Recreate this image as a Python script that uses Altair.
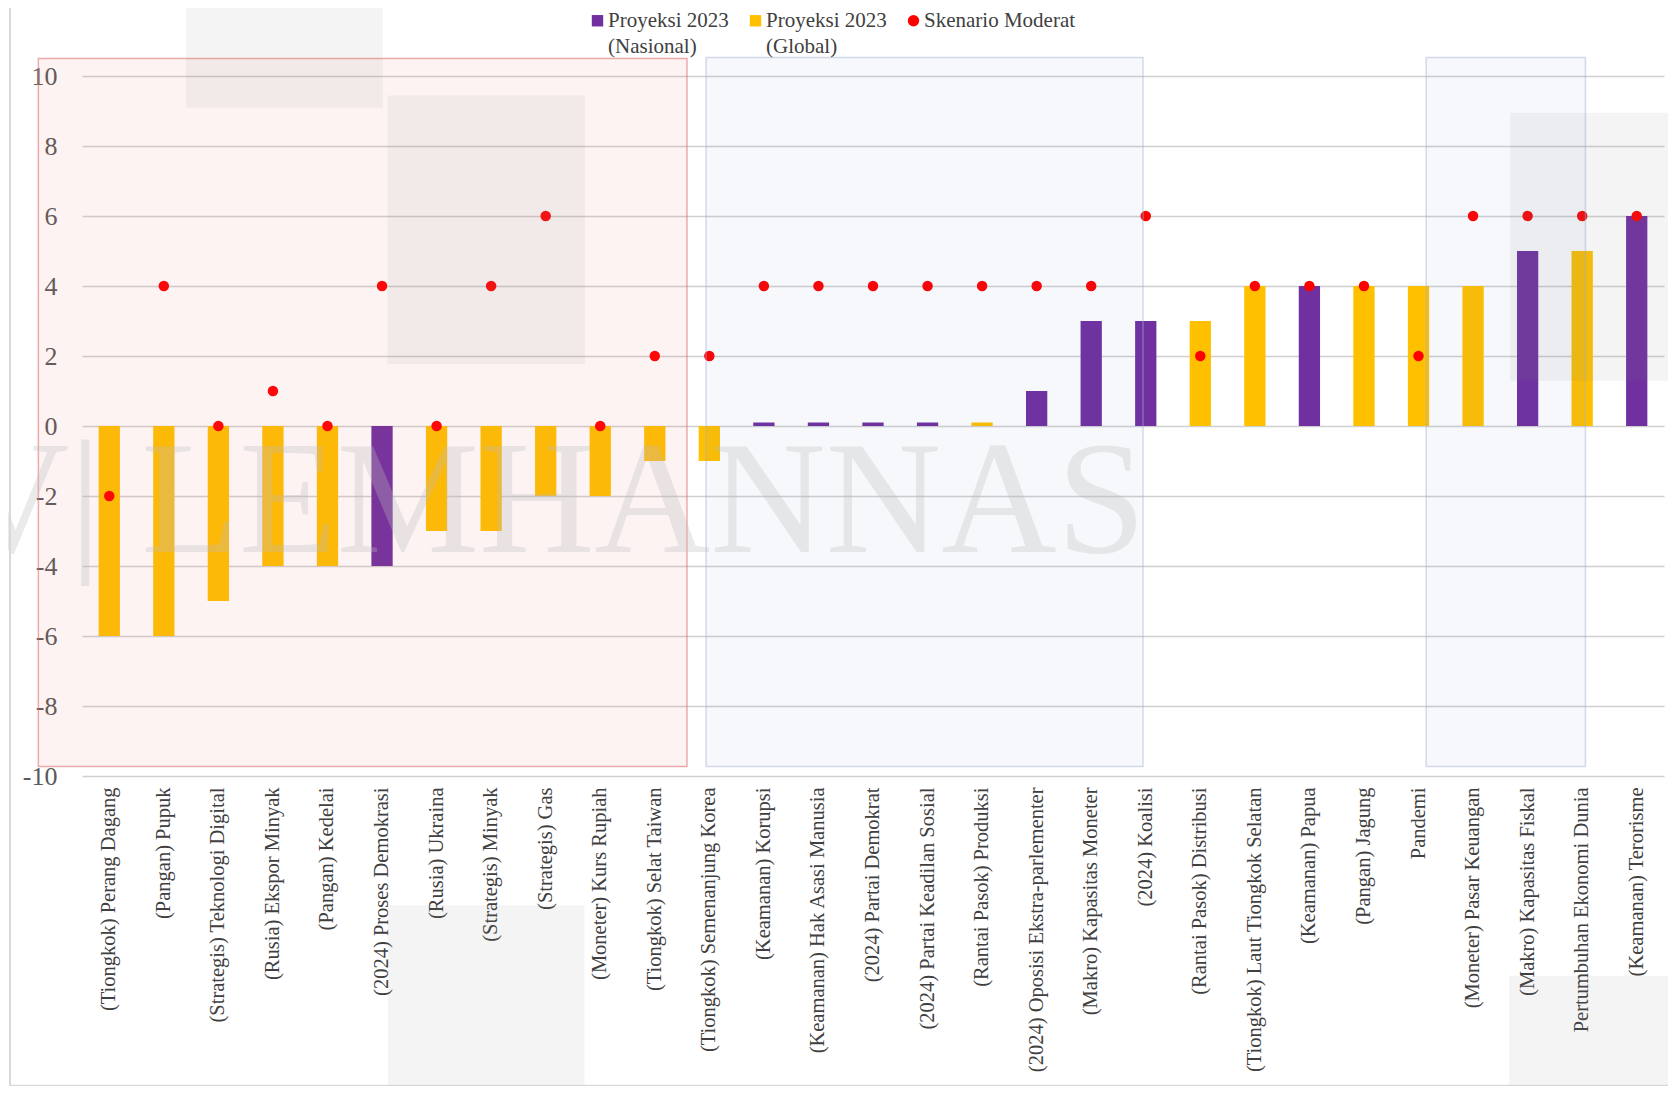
import altair as alt
import pandas as pd

FONT = "Liberation Serif"

categories = [
    "(Tiongkok) Perang Dagang", "(Pangan) Pupuk", "(Strategis) Teknologi Digital",
    "(Rusia) Ekspor Minyak", "(Pangan) Kedelai", "(2024) Proses Demokrasi",
    "(Rusia) Ukraina", "(Strategis) Minyak", "(Strategis) Gas",
    "(Moneter) Kurs Rupiah", "(Tiongkok) Selat Taiwan", "(Tiongkok) Semenanjung Korea",
    "(Keamanan) Korupsi", "(Keamanan) Hak Asasi Manusia", "(2024) Partai Demokrat",
    "(2024) Partai Keadilan Sosial", "(Rantai Pasok) Produksi",
    "(2024) Oposisi Ekstra-parlementer", "(Makro) Kapasitas Moneter", "(2024) Koalisi",
    "(Rantai Pasok) Distribusi", "(Tiongkok) Laut Tiongkok Selatan", "(Keamanan) Papua",
    "(Pangan) Jagung", "Pandemi", "(Moneter) Pasar Keuangan", "(Makro) Kapasitas Fiskal",
    "Pertumbuhan Ekonomi Dunia", "(Keamanan) Terorisme",
]
proyeksi = [-6, -6, -5, -4, -4, -4, -3, -3, -2, -2, -1, -1, 0.1, 0.1, 0.1, 0.1, 0.1,
            1, 3, 3, 3, 4, 4, 4, 4, 4, 5, 5, 6]
kelompok = ["G", "G", "G", "G", "G", "N", "G", "G", "G", "G", "G", "G", "N", "N", "N", "N",
            "G", "N", "N", "N", "G", "G", "N", "G", "G", "G", "N", "G", "N"]
skenario = [-2, 4, 0, 1, 0, 4, 0, 4, 6, 0, 2, 2, 4, 4, 4, 4, 4, 4, 4, 6, 2, 4, 4, 4, 2, 6,
            6, 6, 6]
y_ticks = [-10, -8, -6, -4, -2, 0, 2, 4, 6, 8, 10]

series = ["Proyeksi 2023 (Nasional)", "Proyeksi 2023 (Global)", "Skenario Moderat"]
series_colors = ["#7030a0", "#ffc000", "#ff0000"]
series_shapes = ["square", "square", "circle"]

# decorative regions, in category-slot units (x) and value units (y)
pink_x1, pink_x2, pink_y1, pink_y2 = [-0.8], [11.09], [10.5], [-9.73]
blue_x1 = [11.44, 24.64]
blue_x2 = [19.45, 27.56]
blue_y1 = [10.53, 10.53]
blue_y2 = [-9.73, -9.73]
gray_x1 = [1.91, 5.60, 5.61, 26.18, 26.16]
gray_x2 = [5.51, 9.22, 9.21, 29.4, 29.4]
gray_y1 = [12.4, 9.44, -13.69, 8.95, -15.71]
gray_y2 = [9.09, 1.77, -19.4, 1.29, -19.4]
watermark = ["V| LEMHANNAS"]

group_name = {"N": series[0], "G": series[1]}
bars_df = pd.DataFrame({
    "kategori": categories,
    "nilai": proyeksi,
    "seri": [group_name[k] for k in kelompok],
})
pts_df = pd.DataFrame({
    "kategori": categories,
    "nilai": skenario,
    "seri": [series[2]] * len(categories),
})

xband = alt.Scale(paddingInner=0.61, paddingOuter=0.305)
xq = alt.Scale(domain=[0, 29], nice=False, zero=False)
yscale = alt.Scale(domain=[-10, 10], nice=False, zero=False)
color_scale = alt.Scale(domain=series, range=series_colors)
shape_scale = alt.Scale(domain=series, range=series_shapes)

yaxis = alt.Axis(title=None, values=y_ticks, labelExpr="'' + datum.value",
                 labelFont=FONT, labelFontSize=26, labelColor="#595959",
                 labelPadding=25, ticks=False, domain=False, grid=True,
                 gridColor="#d0d0d0", gridWidth=1.5)

legend = alt.Legend(
    title=None, orient="none", legendX=505, legendY=-66, direction="horizontal",
    columns=3, columnPadding=16, labelFont=FONT, labelFontSize=21,
    labelColor="#404040", symbolSize=130, labelOffset=0, symbolStrokeWidth=0,
    labelLimit=400,
    labelExpr="indexof(datum.label, ' (') > 0 ? [substring(datum.label, 0, indexof(datum.label, ' (')), substring(datum.label, indexof(datum.label, ' (') + 1)] : [datum.label, '']",
)

bars = alt.Chart(bars_df).mark_bar().encode(
    x=alt.X("kategori:N", sort=categories, scale=xband,
            axis=alt.Axis(title=None, labelAngle=-90, labelFont=FONT, labelFontSize=20.5,
                          labelColor="#404040", labelPadding=11, labelLimit=400,
                          ticks=False, domain=False, grid=False)),
    y=alt.Y("nilai:Q", scale=yscale, axis=yaxis),
    color=alt.Color("seri:N", scale=color_scale, legend=legend),
)

points = alt.Chart(pts_df).mark_point(filled=True, size=110, opacity=1).encode(
    x=alt.X("kategori:N", sort=categories, scale=xband, axis=None),
    y=alt.Y("nilai:Q", scale=yscale, axis=yaxis),
    color=alt.Color("seri:N", scale=color_scale, legend=legend),
    shape=alt.Shape("seri:N", scale=shape_scale, legend=legend),
)


def region(x1, x2, y1, y2, **props):
    df = pd.DataFrame({"x1": x1, "x2": x2, "y1": y1, "y2": y2})
    return alt.Chart(df).mark_rect(**props).encode(
        x=alt.X("x1:Q", scale=xq, axis=None), x2="x2:Q",
        y=alt.Y("y1:Q", scale=yscale, axis=yaxis), y2="y2:Q",
    )


pink = region(pink_x1, pink_x2, pink_y1, pink_y2, fill="#e06060", fillOpacity=0.08,
              stroke="#e06a6a", strokeOpacity=0.55, strokeWidth=1.5)
blue = region(blue_x1, blue_x2, blue_y1, blue_y2, fill="#4a6fb5", fillOpacity=0.05,
              stroke="#9fb2d2", strokeOpacity=0.45, strokeWidth=1.5)
gray = region(gray_x1, gray_x2, gray_y1, gray_y2, fill="#808080", fillOpacity=0.09)

wm = alt.Chart(pd.DataFrame({"t": watermark, "x": [19.5], "y": [-3.6]})).mark_text(
    font=FONT, fontSize=160, color="#bdbdbd", opacity=0.3, align="right",
    baseline="alphabetic",
).encode(
    x=alt.X("x:Q", scale=xq, axis=None),
    y=alt.Y("y:Q", scale=yscale, axis=yaxis),
    text="t:N",
)

frame_df = pd.DataFrame({"x": [-1.32, -1.32], "x2": [-1.32, 29.4],
                         "y": [12.4, -18.85], "y2": [-18.85, -18.85]})
frame = alt.Chart(frame_df).mark_rule(color="#d9d9d9", strokeWidth=2).encode(
    x=alt.X("x:Q", scale=xq, axis=None), x2="x2:Q",
    y=alt.Y("y:Q", scale=yscale, axis=yaxis), y2="y2:Q",
)

chart = alt.layer(bars, points, pink, blue, gray, wm, frame).resolve_scale(
    x="independent"
).properties(
    width=1582, height=700,
    autosize=alt.AutoSizeParams(type="none"),
    padding={"left": 74, "top": 68, "right": 4, "bottom": 310},
    background="white",
).configure(
    style={"guide-label": {"lineHeight": 26}}
).configure_axis(
    labelFont=FONT
).configure_legend(
    labelFont=FONT
).configure_view(strokeWidth=0)

chart.save("out.html", embed_options={"renderer": "svg", "actions": False})
